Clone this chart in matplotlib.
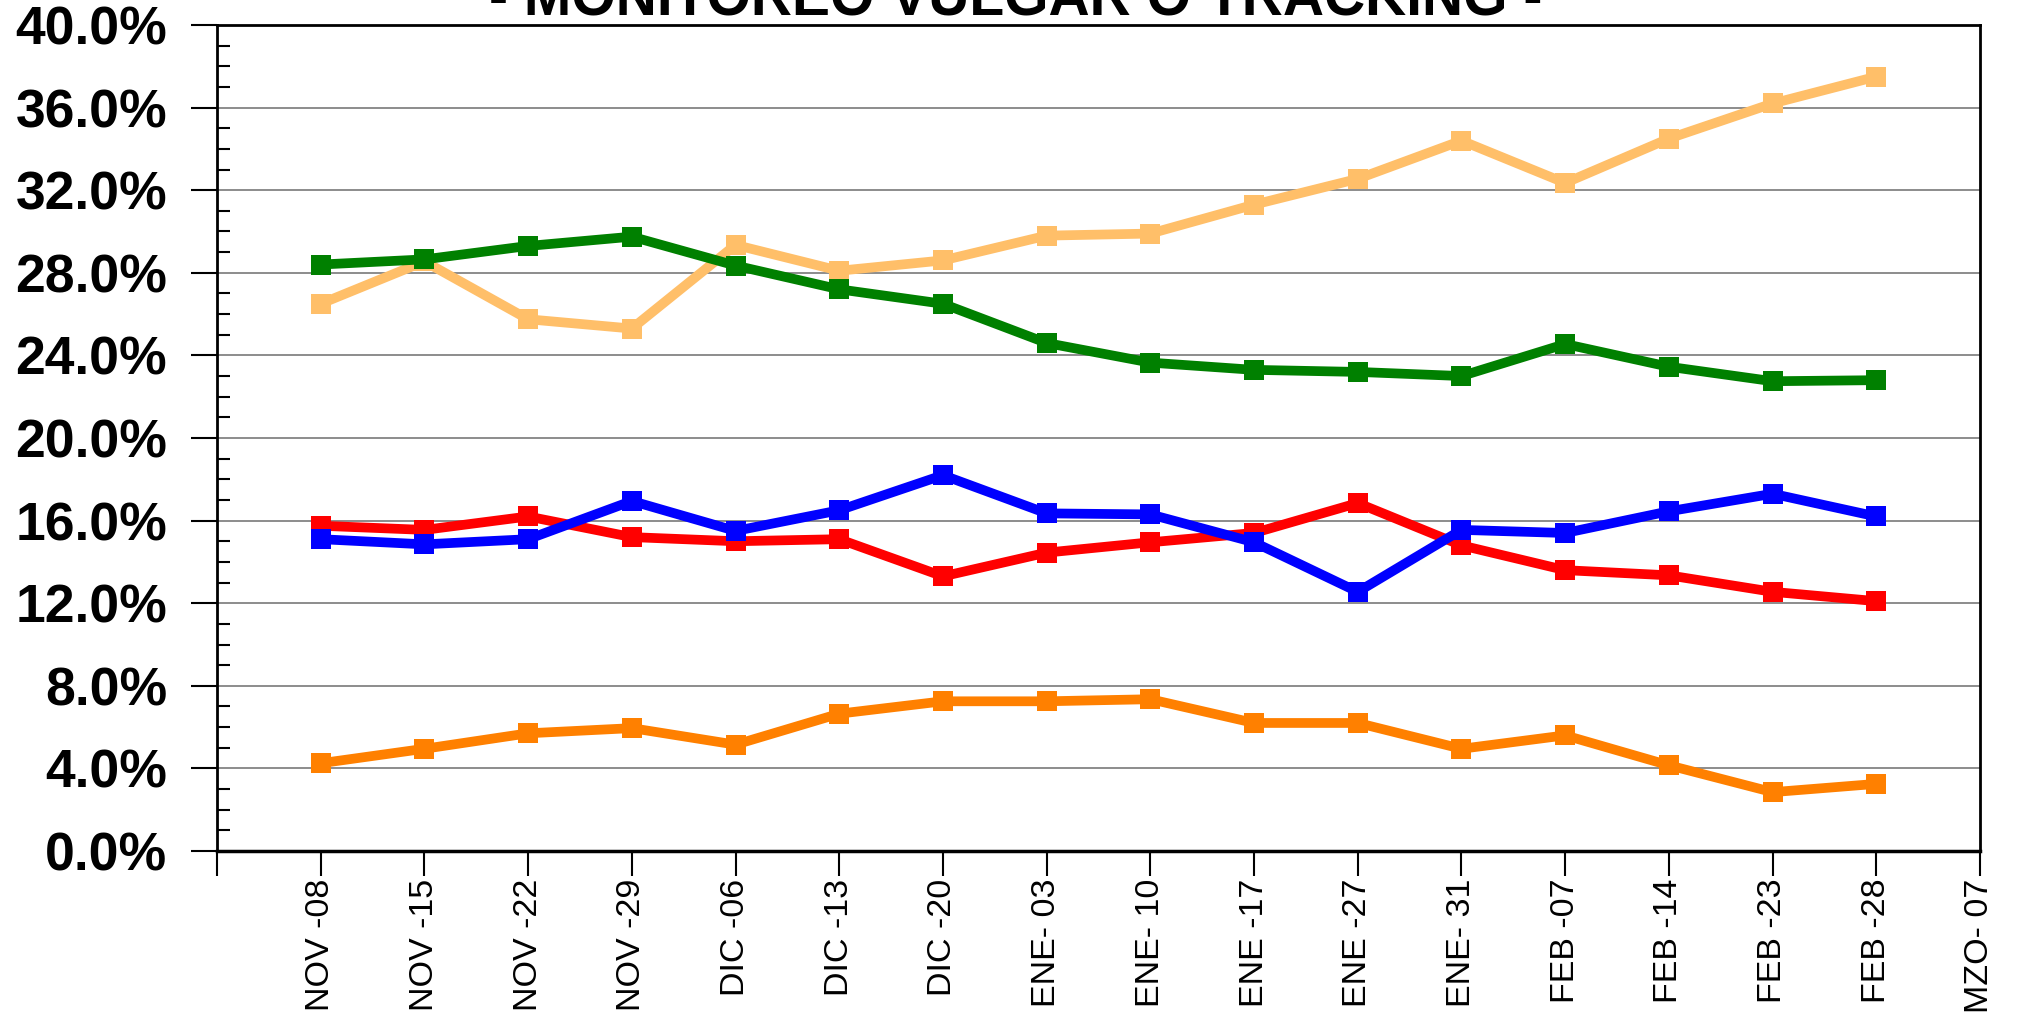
import matplotlib
matplotlib.use('Agg')
import matplotlib.pyplot as plt
import matplotlib.ticker as mtick

# semanas del tracking (MZO- 07 sin datos todavia)
weeks = ['NOV -08', 'NOV -15', 'NOV -22', 'NOV -29', 'DIC -06', 'DIC -13',
         'DIC -20', 'ENE- 03', 'ENE- 10', 'ENE -17', 'ENE -27', 'ENE- 31',
         'FEB -07', 'FEB -14', 'FEB -23', 'FEB -28', 'MZO- 07']

light_orange = [26.5, 28.55, 25.75, 25.3, 29.35, 28.1, 28.6, 29.8, 29.9, 31.3,
                32.55, 34.4, 32.35, 34.5, 36.2, 37.5]
green = [28.4, 28.65, 29.3, 29.75, 28.35, 27.2, 26.5, 24.6, 23.65, 23.3,
         23.2, 23.0, 24.55, 23.45, 22.75, 22.8]
red = [15.75, 15.55, 16.2, 15.2, 15.0, 15.1, 13.3, 14.45, 14.95, 15.4,
       16.85, 14.8, 13.6, 13.35, 12.55, 12.1]
blue = [15.1, 14.85, 15.1, 16.95, 15.5, 16.5, 18.2, 16.35, 16.3, 14.95,
        12.55, 15.55, 15.4, 16.45, 17.3, 16.2]
orange = [4.25, 4.95, 5.7, 5.95, 5.15, 6.65, 7.25, 7.25, 7.35, 6.2,
          6.2, 4.95, 5.6, 4.15, 2.85, 3.25]

SERIES = [
    (light_orange, '#FFBF69'),
    (green, '#008000'),
    (red, '#FF0000'),
    (blue, '#0000FF'),
    (orange, '#FF8000'),
]

FONT = 'Liberation Sans'

fig = plt.figure(figsize=(20.18, 10.16), dpi=100)
ax = fig.add_axes([217/2018, 1 - 851/1016, (1980-217)/2018, (851-25)/1016])

x = list(range(1, len(light_orange) + 1))
for vals, col in SERIES:
    ax.plot(x, vals, color=col, lw=7, marker='s', markersize=14,
            markeredgewidth=0, zorder=3)

ax.set_xlim(0, len(weeks))
ax.set_ylim(0, 40)

ax.set_xticks(range(0, len(weeks) + 1))
ax.set_xticklabels([''] + weeks, rotation=90, fontsize=24.5,
                   fontfamily=FONT, va='top', ha='center')
ax.tick_params(axis='x', direction='out', length=18, width=1.5, pad=2,
               colors='black')

ax.yaxis.set_major_locator(mtick.MultipleLocator(4))
ax.yaxis.set_minor_locator(mtick.MultipleLocator(1))
ax.yaxis.set_major_formatter(mtick.FuncFormatter(lambda v, p: f'{v:.1f}%'))
ax.tick_params(axis='y', which='major', direction='out', length=19,
               width=1.5, pad=17, labelsize=38.5)
ax.tick_params(axis='y', which='minor', direction='in', length=9, width=1.5)
for lab in ax.get_yticklabels():
    lab.set_fontfamily(FONT)
    lab.set_fontweight('bold')

ax.grid(True, axis='y', which='major', color='#8C8C8C', lw=1.4, zorder=1)
ax.set_axisbelow(True)
for side in ['left', 'right', 'top', 'bottom']:
    ax.spines[side].set_color('black')
    ax.spines[side].set_linewidth(2)
ax.spines['bottom'].set_linewidth(2.5)

fig.text(0.5035, 1 - 15/1016, '- MONITOREO VULGAR O TRACKING -',
         ha='center', va='baseline', fontsize=41, fontweight='bold',
         fontfamily=FONT)

fig.savefig('out.png', dpi=100, facecolor='white')
